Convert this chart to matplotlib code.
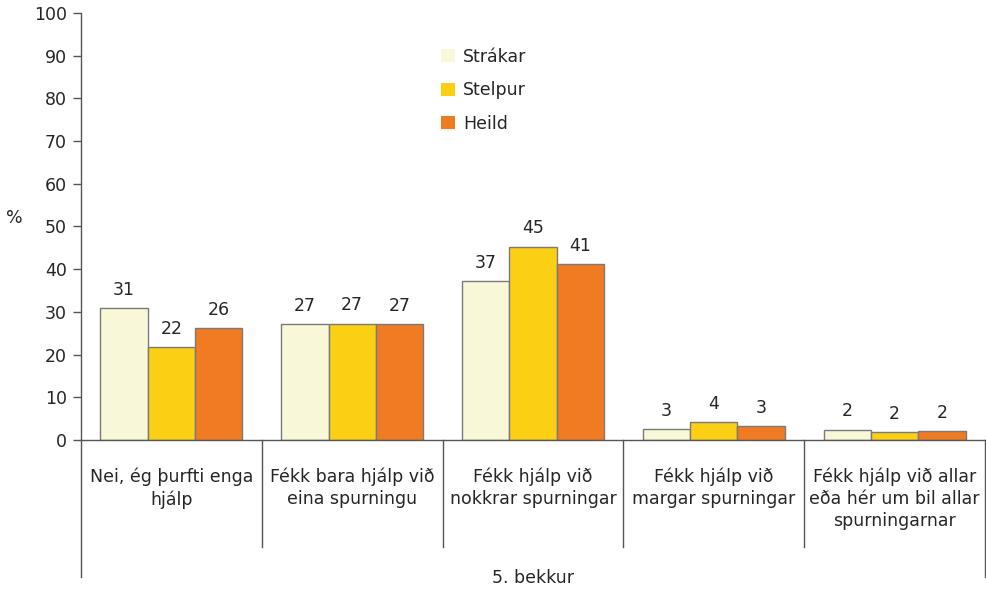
import matplotlib
matplotlib.use("Agg")
import matplotlib.pyplot as plt
import matplotlib.transforms as mtransforms
from matplotlib.patches import Patch

plt.rcParams['font.family'] = ['DejaVu Sans']

categories = ["Nei, ég þurfti enga\nhjálp",
              "Fékk bara hjálp við\neina spurningu",
              "Fékk hjálp við\nnokkrar spurningar",
              "Fékk hjálp við\nmargar spurningar",
              "Fékk hjálp við allar\neða hér um bil allar\nspurningarnar"]
series_names = ["Strákar", "Stelpur", "Heild"]
strakar = [30.8, 27.1, 37.2, 2.6, 2.4]
stelpur = [21.7, 27.2, 45.3, 4.1, 1.8]
heild = [26.2, 27.1, 41.2, 3.3, 2.1]
strakar_labels = [31, 27, 37, 3, 2]
stelpur_labels = [22, 27, 45, 4, 2]
heild_labels = [26, 27, 41, 3, 2]
yticks = list(range(0, 101, 10))
group_label = "5. bekkur"

colors = ["#F8F8D8", "#FBCF14", "#F07B23"]
txt = "#262626"
fs = 12.5

fig = plt.figure(figsize=(9.86, 5.93), dpi=100)
W, H = 986, 593
ax = fig.add_axes([81 / W, (H - 440) / H, (985 - 81) / W, (440 - 13) / H])

bw = 0.262
xs = [i + 0.5 for i in range(len(categories))]
all_vals = [strakar, stelpur, heild]
all_labels = [strakar_labels, stelpur_labels, heild_labels]
for k, (vals, labs) in enumerate(zip(all_vals, all_labels)):
    pos = [x + (k - 1) * bw for x in xs]
    ax.bar(pos, vals, width=bw, color=colors[k], edgecolor="#7a7a7a",
           linewidth=1.0, label=series_names[k], zorder=2)
    for p, v, l in zip(pos, vals, labs):
        ax.text(p, v + 2.2, str(l), ha="center", va="bottom",
                fontsize=fs, color=txt)

ax.set_xlim(0, len(categories))
ax.set_ylim(0, 100)
ax.set_yticks(yticks)
ax.tick_params(axis="y", labelsize=fs, colors="#555555", labelcolor=txt,
               length=6, width=1, pad=4)
ax.set_xticks([])
for s in ["top", "right"]:
    ax.spines[s].set_visible(False)
for s in ["left", "bottom"]:
    ax.spines[s].set_color("#555555")
    ax.spines[s].set_linewidth(1.0)

trans = mtransforms.blended_transform_factory(ax.transData, ax.transAxes)
for i in range(len(categories) + 1):
    low = -0.321 if i in (0, len(categories)) else -0.2506
    ax.plot([i, i], [0, low], transform=trans, clip_on=False,
            color="#555555", linewidth=1.0)
for x, c in zip(xs, categories):
    ax.text(x, -0.064, c, transform=trans, ha="center", va="top",
            fontsize=fs, color=txt, linespacing=1.3)
ax.text(len(categories) / 2, -0.323, group_label, transform=trans,
        ha="center", va="center", fontsize=fs, color=txt)

fig.text(14 / W, 1 - 218 / H, "%", ha="center", va="center",
         fontsize=fs, color=txt)

handles = [Patch(facecolor=c, edgecolor="none") for c in colors]
ax.legend(handles, series_names, loc="upper left",
          bbox_to_anchor=((425 - 81) / (985 - 81), 1 - (32 - 13) / 427),
          frameon=False, fontsize=fs, handlelength=0.8, handleheight=0.8,
          labelspacing=0.9, handletextpad=0.5, labelcolor=txt)

fig.savefig("out.png", dpi=100)
